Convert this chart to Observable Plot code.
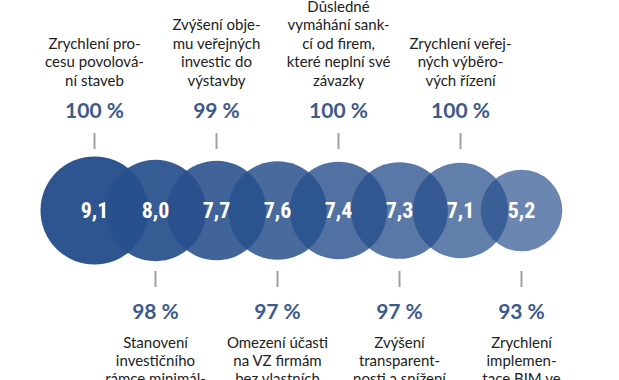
<!DOCTYPE html>
<html><head><meta charset="utf-8">
<script src="https://cdn.jsdelivr.net/npm/d3@7"></script>
<script src="https://cdn.jsdelivr.net/npm/@observablehq/plot@0.6"></script>
<style>body{margin:0;background:#fff;overflow:hidden}</style>
</head><body><div id="chart"></div>
<script>
const labels = [
  "Zrychlení pro-\ncesu povolová-\nní staveb",
  "Stanovení\ninvestičního\nrámce minimál-",
  "Zvýšení obje-\nmu veřejných\ninvestic do\nvýstavby",
  "Omezení účasti\nna VZ firmám\nbez vlastních",
  "Důsledné\nvymáhání sank-\ncí od firem,\nkteré neplní své\nzávazky",
  "Zvýšení\ntransparent-\nnosti a snížení",
  "Zrychlení veřej-\nných výběro-\nvých řízení",
  "Zrychlení\nimplemen-\ntace BIM ve"
];
const scores = [9.1, 8.0, 7.7, 7.6, 7.4, 7.3, 7.1, 5.2];
const shares = [100, 98, 99, 97, 100, 97, 100, 93];

const data = scores.map((s, i) => ({i, score: s, share: shares[i], label: labels[i]}));
const topRow = data.filter(d => d.i % 2 === 0);
const bottomRow = data.filter(d => d.i % 2 === 1);
const fmt = v => v.toFixed(1).replace(".", ",");

const chart = Plot.plot({
  width: 619, height: 380, margin: 0,
  style: {fontFamily: "Lato, sans-serif", background: "#fff"},
  x: {domain: [0, 7], range: [94, 521], axis: null},
  y: {domain: [210, -170], range: [0, 380], axis: null},
  r: {domain: [0, 9.1], range: [0, 54]},
  opacity: {type: "identity"},
  marks: [
    Plot.dot(data, {x: "i", y: 0, r: "score", fill: "#28508c", fillOpacity: d => 0.97 - d.i * 0.04, stroke: null}),
    Plot.text(data, {x: "i", y: 0, text: d => fmt(d.score), fill: "white", fontSize: 22, fontWeight: 700, fontFamily: "'Liberation Sans Narrow', 'Roboto Condensed', Roboto, sans-serif"}),
    Plot.ruleX(topRow, {x: "i", y1: 61, y2: 77, stroke: "#a0a0a0", strokeWidth: 2}),
    Plot.ruleX(bottomRow, {x: "i", y1: -61, y2: -77, stroke: "#a0a0a0", strokeWidth: 2}),
    Plot.text(topRow, {x: "i", y: 99, text: d => d.share + " %", fill: "#3d5a8a", fontSize: 21, fontWeight: 700}),
    Plot.text(bottomRow, {x: "i", y: -102, text: d => d.share + " %", fill: "#3d5a8a", fontSize: 21, fontWeight: 700}),
    Plot.text(topRow, {x: "i", y: 125, text: "label", lineAnchor: "bottom", lineHeight: 1.23, fontSize: 15, fill: "#222"}),
    Plot.text(bottomRow, {x: "i", y: -124, text: "label", lineAnchor: "top", lineHeight: 1.23, fontSize: 15, fill: "#222"})
  ]
});
document.getElementById("chart").append(chart);
</script>
</body></html>
